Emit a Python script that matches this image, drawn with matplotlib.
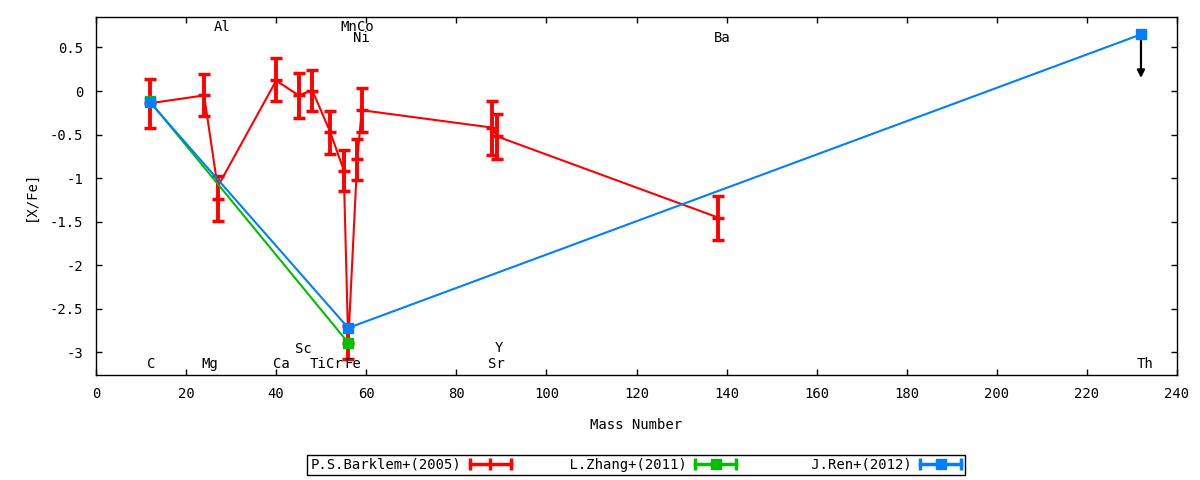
import numpy as np
import matplotlib
matplotlib.use("Agg")
import matplotlib.pyplot as plt
from matplotlib.lines import Line2D
from matplotlib.legend_handler import HandlerLine2D

# Donnees : [X/Fe] en fonction du nombre de masse
barklem_mass = [12, 24, 27, 40, 45, 48, 52, 55, 56, 58, 59, 88, 89, 138]
barklem_y = [-0.14, -0.05, -1.10, 0.12, -0.05, 0.01, -0.47, -0.91, -2.89, -0.79, -0.22, -0.42, -0.52, -1.45]
barklem_lo = [-0.42, -0.29, -1.49, -0.12, -0.31, -0.23, -0.72, -1.15, -3.08, -1.02, -0.47, -0.73, -0.78, -1.71]
barklem_hi = [0.14, 0.19, -0.98, 0.38, 0.21, 0.24, -0.23, -0.68, -2.70, -0.55, 0.03, -0.11, -0.26, -1.20]

zhang_mass = [12, 56]
zhang_y = [-0.12, -2.89]

ren_mass = [12, 56, 232]
ren_y = [-0.13, -2.72, 0.65]
ren_limit_mass = [232]
ren_limit_to = [0.15]

# Etiquettes des elements (texte, position)
elem_names = ["C", "Mg", "Al", "Ca", "Sc", "Ti", "Cr", "Fe", "Mn", "Co", "Ni", "Sr", "Y", "Ba", "Th"]
elem_x = [12.3, 25.2, 28.0, 41.2, 46.0, 49.2, 53.0, 56.9, 56.1, 59.9, 59.0, 89.0, 89.4, 139.0, 233.0]
elem_y = [-3.13, -3.13, 0.73, -3.13, -2.96, -3.13, -3.13, -3.13, 0.73, 0.73, 0.61, -3.13, -2.95, 0.61, -3.13]

labels = ["P.S.Barklem+(2005)", "L.Zhang+(2011)", "J.Ren+(2012)"]

red = "#ff0000"
green = "#00c000"
blue = "#0080ff"

plt.rcParams['font.family'] = ['DejaVu Sans Mono']
plt.rcParams['font.size'] = 10
plt.rcParams['axes.unicode_minus'] = False

fig = plt.figure(figsize=(12, 4.8), dpi=100)
ax = fig.add_axes([96 / 1200, 1 - 375 / 480, (1177 - 96) / 1200, (375 - 17) / 480])

# Barklem : ligne + barres d'erreur
bx = np.array(barklem_mass)
lo = np.array(barklem_lo)
hi = np.array(barklem_hi)
mid = (lo + hi) / 2
ax.plot(bx, barklem_y, color=red, lw=1.5, zorder=2)
ax.errorbar(bx, mid, yerr=(hi - lo) / 2, fmt='none', ecolor=red, elinewidth=2.8,
            capsize=4, capthick=2.5, zorder=2)
ax.plot(bx, mid, ls='none', marker='_', ms=8, mew=2.5, color=red, zorder=2)

# Zhang
ax.plot(zhang_mass, zhang_y, color=green, lw=1.5, marker='s', ms=7, zorder=3)

# Ren (+ limite superieure pour Th)
ax.plot(ren_mass, ren_y, color=blue, lw=1.5, marker='s', ms=7, zorder=4)
for xm, yt in zip(ren_limit_mass, ren_limit_to):
    y0 = ren_y[ren_mass.index(xm)]
    ax.annotate("", xy=(xm, yt), xytext=(xm, y0),
                arrowprops=dict(arrowstyle='-|>', color='black', lw=1.6,
                                mutation_scale=11, shrinkA=4, shrinkB=0), zorder=3)

for name, xt, yt in zip(elem_names, elem_x, elem_y):
    ax.text(xt, yt, name, ha='center', va='center', fontsize=10)

ax.set_xlim(0, 240)
ax.set_ylim(-3.26, 0.85)
ax.set_xticks(np.arange(0, 241, 20))
ax.set_yticks(np.arange(-3, 0.51, 0.5))
ax.yaxis.set_major_formatter(matplotlib.ticker.FormatStrFormatter('%g'))
ax.tick_params(direction='in', top=True, right=True, length=4.5, width=1, pad=9)
for sp in ax.spines.values():
    sp.set_linewidth(1)
ax.set_xlabel("Mass Number", labelpad=12)
ax.set_ylabel("[X/Fe]", labelpad=9)

# Legende facon gnuplot : texte aligne a droite, puis echantillon
handles = []
hmap = {}
for c, m in zip([red, green, blue], ['|', 's', 's']):
    caps = Line2D([], [], color=c, lw=2.5, marker='|', ms=8, mew=2.5)
    if m == 's':
        pt = Line2D([], [], ls='none', marker='s', ms=7, color=c)
    else:
        pt = Line2D([], [], ls='none', marker='|', ms=9, mew=2.5, color=c)
    hmap[caps] = HandlerLine2D(numpoints=2, marker_pad=0)
    hmap[pt] = HandlerLine2D(numpoints=1)
    handles.append((caps, pt))
width = max(len(s) for s in labels)
padded = [s.rjust(width) for s in labels]
leg = fig.legend(handles, padded, handler_map=hmap, loc='center',
                 bbox_to_anchor=(636 / 1200, 1 - 465 / 480), ncol=3,
                 markerfirst=False, handlelength=3.0, handletextpad=0.6,
                 columnspacing=1.75, fancybox=False, framealpha=1,
                 edgecolor='black', borderpad=0.25, fontsize=10)
leg.get_frame().set_linewidth(1)

plt.savefig("out.png", dpi=100)
